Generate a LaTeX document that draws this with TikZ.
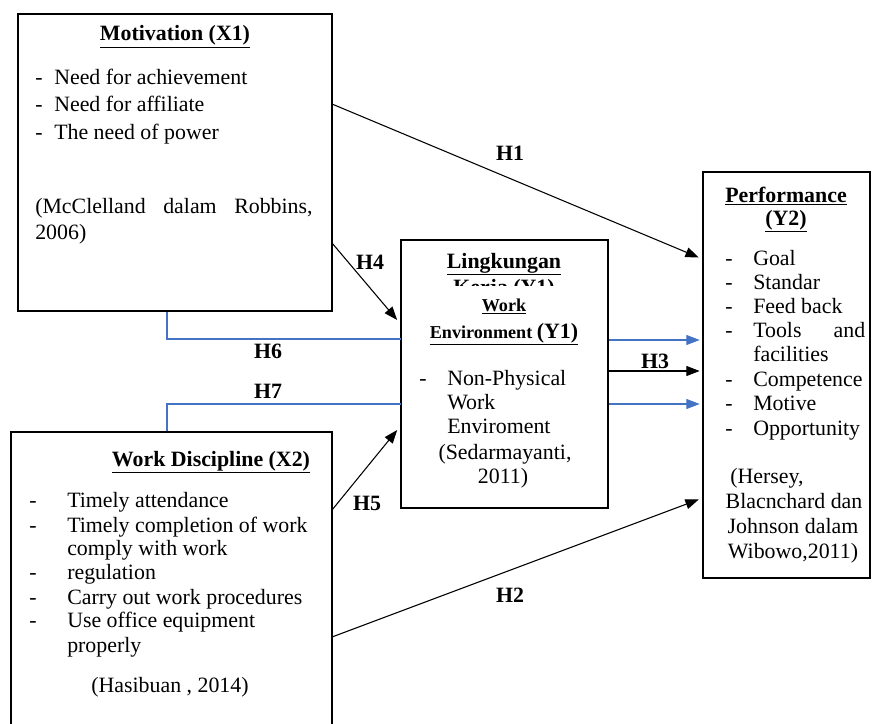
\documentclass[tikz,border=0pt]{standalone}
\usepackage{fontspec}
\setmainfont{Liberation Serif}
\usetikzlibrary{arrows.meta,fit}
\definecolor{lblue}{HTML}{4472C4}
\begin{document}
\begin{tikzpicture}[x=0.75pt,y=-0.75pt,
  box/.style={draw,line width=1.6pt,inner sep=0pt},
  txt/.style={anchor=west,inner sep=0pt,font=\fontsize{16.4}{20}\selectfont,text height=11pt,text depth=3.5pt},
  ctxt/.style={txt,anchor=center},
  btxt/.style={ctxt,font=\fontsize{16.4}{20}\selectfont\bfseries},
  stxt/.style={ctxt,font=\fontsize{13.6}{16}\selectfont\bfseries},
  arr/.style={line width=0.8pt,shorten >=1pt,-{Triangle[length=10pt,width=7.5pt]}},
  barr/.style={arr,draw=lblue,fill=lblue},
  bline/.style={draw=lblue,line width=0.8pt}]
\useasboundingbox (0,0) rectangle (872,724);
\clip (0,0) rectangle (872,724);

% boxes
\node[box,fit={(18,14) (332,311)}] (x1) {};
\node[box,fit={(11,432) (332,740)}] (x2) {};
\node[box,fit={(401,240) (608,508)}] (y1) {};
\node[box,fit={(703,172) (870,578)}] (y2) {};

% Motivation
\node[btxt] (x1t) at (175,36) {\underline{Motivation (X1)}};
\node[txt] (x1d1) at (35,80) {-};  \node[txt] (x1a) at (54,80) {Need for achievement};
\node[txt] (x1d2) at (35,107) {-}; \node[txt] (x1b) at (54,107) {Need for affiliate};
\node[txt] (x1d3) at (35,135) {-}; \node[txt] (x1c) at (54,135) {The need of power};
\node[txt] (x1r1) at (35,209) {\makebox[208pt][s]{(McClelland\hfill dalam\hfill Robbins,}};
\node[txt] (x1r2) at (35,234) {2006)};

% Work discipline
\node[btxt] (x2t) at (211,461) {\underline{Work Discipline (X2)}};
\node[txt] (x2d1) at (29,502) {-}; \node[txt] (x2a) at (67,502) {Timely attendance};
\node[txt] (x2d2) at (29,527) {-}; \node[txt] (x2b) at (67,527) {Timely completion of work};
\node[txt] (x2c) at (67,550) {comply with work};
\node[txt] (x2d3) at (29,574) {-}; \node[txt] (x2e) at (67,574) {regulation};
\node[txt] (x2d4) at (29,599) {-}; \node[txt] (x2f) at (67,599) {Carry out work procedures};
\node[txt] (x2d5) at (29,622) {-}; \node[txt] (x2g) at (67,622) {Use office equipment};
\node[txt] (x2h) at (67,647) {properly};
\node[ctxt] (x2r) at (170,687) {(Hasibuan , 2014)};

% Work environment
\node[btxt] (y1t1) at (504,263) {\underline{Lingkungan}};
\begin{scope}
\clip (403,272) rectangle (606,285.5);
\node[btxt,anchor=base,text depth=0pt] (y1t2) at (504,294.5) {\underline{Kerja (Y1)}};
\end{scope}
\node[stxt] (y1t3) at (504,306) {\underline{Work}};
\node[stxt] (y1t4) at (504,333) {\underline{Environment {\fontsize{16.4}{20}\selectfont(Y1)}}};
\node[txt] (y1d) at (419,380) {-};
\node[txt] (y1a) at (447,380) {Non-Physical};
\node[txt] (y1b) at (447,404) {Work};
\node[txt] (y1c) at (447,428) {Enviroment};
\node[ctxt] (y1r1) at (505,454) {(Sedarmayanti,};
\node[ctxt] (y1r2) at (503,478) {2011)};

% Performance
\node[btxt] (y2t1) at (786,197) {\underline{Performance}};
\node[btxt] (y2t2) at (786,220) {\underline{(Y2)}};
\node[txt] (y2d1) at (725,260) {-}; \node[txt] (y2a) at (753,260) {Goal};
\node[txt] (y2d2) at (725,284) {-}; \node[txt] (y2b) at (753,284) {Standar};
\node[txt] (y2d3) at (725,308) {-}; \node[txt] (y2c) at (753,308) {Feed back};
\node[txt] (y2d4) at (725,332) {-}; \node[txt] (y2e) at (753,332) {\makebox[84pt][s]{Tools\hfill and}};
\node[txt] (y2f) at (753,356) {facilities};
\node[txt] (y2d5) at (725,381) {-}; \node[txt] (y2g) at (753,381) {Competence};
\node[txt] (y2d6) at (725,405) {-}; \node[txt] (y2h) at (753,405) {Motive};
\node[txt] (y2d7) at (725,430) {-}; \node[txt] (y2i) at (753,430) {Opportunity};
\node[ctxt] (y2r1) at (767,478) {(Hersey,};
\node[ctxt] (y2r2) at (794,503) {Blacnchard dan};
\node[ctxt] (y2r3) at (793,528) {Johnson dalam};
\node[ctxt] (y2r4) at (793,553) {Wibowo,2011)};

% hypothesis labels
\node[btxt] (h1) at (510,156) {H1};
\node[btxt] (h2) at (510,597) {H2};
\node[btxt] (h3) at (655,363) {H3};
\node[btxt] (h4) at (370,264) {H4};
\node[btxt] (h5) at (367,505) {H5};
\node[btxt] (h6) at (268,353) {H6};
\node[btxt] (h7) at (268,393) {H7};

% connector end points on box borders
\coordinate (x1h1) at (332,104);
\coordinate (x1h4) at (332,243);
\coordinate (x2h5) at (332,510);
\coordinate (x2h2) at (332,637);
\coordinate (y2h1) at (700,258);
\coordinate (y2h2) at (700,499);
\coordinate (y1h4) at (398,321);
\coordinate (y1h5) at (398,429);
\coordinate (x1h6) at (167,312);
\coordinate (x2h7) at (167,431);
\coordinate (y1h6) at (401,339);
\coordinate (y1h7) at (401,404);
\coordinate (y1o1) at (609,340);
\coordinate (y1o2) at (609,371);
\coordinate (y1o3) at (609,404);
\coordinate (y2i1) at (701,340);
\coordinate (y2i2) at (701,371);
\coordinate (y2i3) at (701,404);

% connectors
\draw[arr] (x1h1) -- (y2h1);
\draw[arr] (x1h4) -- (y1h4);
\draw[arr] (x2h5) -- (y1h5);
\draw[arr] (x2h2) -- (y2h2);
\draw[arr] (y1o2) -- (y2i2);
\draw[barr] (y1o1) -- (y2i1);
\draw[barr] (y1o3) -- (y2i3);
\draw[bline] (x1h6) |- (y1h6);
\draw[bline] (x2h7) |- (y1h7);
\end{tikzpicture}
\end{document}
